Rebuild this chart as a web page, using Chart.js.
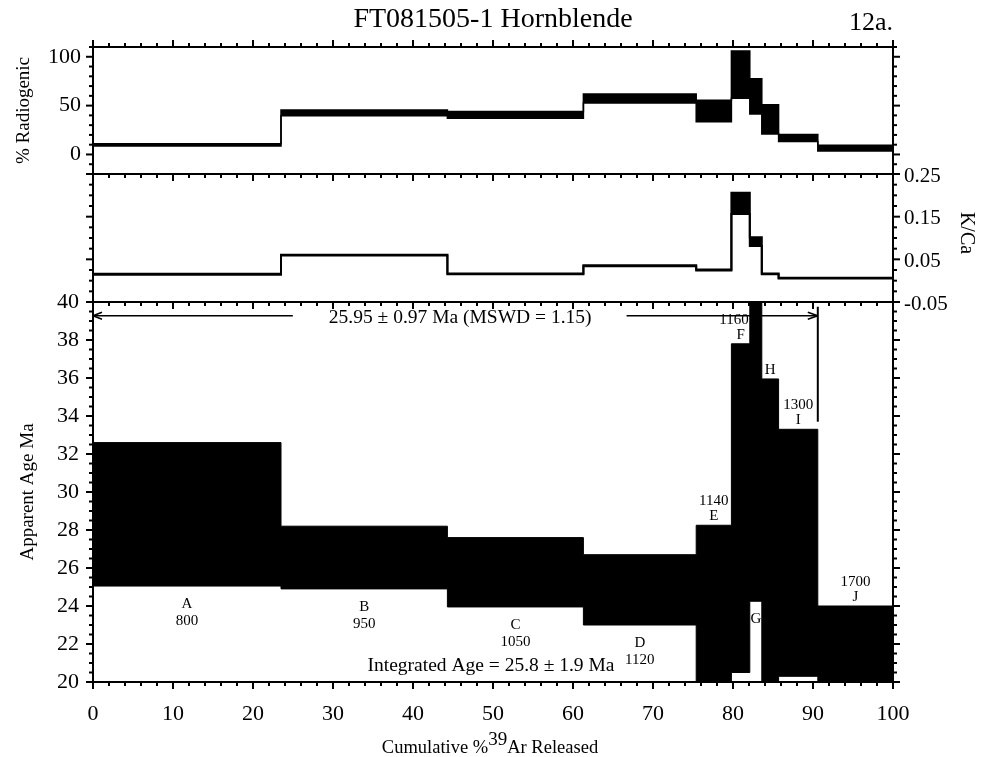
<!DOCTYPE html>
<html>
<head>
<meta charset="utf-8">
<script src="https://cdn.jsdelivr.net/npm/chart.js@4"></script>
<style>
  html, body { margin: 0; padding: 0; background: #fff; }
</style>
</head>
<body>
<canvas id="myChart" width="985" height="757"></canvas>
<script>
// heating steps, start of each step in cumulative % 39Ar
const stepStart = [0, 23.5, 44.3, 61.3, 75.4, 79.8, 82.1, 83.6, 85.7, 90.6]
const stepEnd = 100
const stepNames = ['A', 'B', 'C', 'D', 'E', 'F', 'G', 'H', 'I', 'J']
const stepTemps = ['800', '950', '1050', '1120', '1140', '1160', '', '', '1300', '1700']
const labelSide = ['below', 'below', 'below', 'below', 'above', 'above', 'below', 'above', 'above', 'above']

// apparent age (Ma), lower and upper edge of each box
const ageLow  = [25.05, 24.9, 23.95, 23.0, 19.5, 20.5, 24.25, 19.5, 20.3, 19.5]
const ageHigh = [32.6, 28.2, 27.6, 26.7, 28.25, 37.8, 40.0, 35.95, 33.3, 24.0]

// % radiogenic
const radLow  = [8.6, 39.7, 37.0, 52.8, 33.5, 57.5, 41.5, 21.0, 13.3, 3.5]
const radHigh = [11.0, 45.5, 44.0, 61.8, 55.5, 106, 77.5, 50.8, 20.5, 9.5]

// K/Ca
const kcaLow  = [0.014, 0.059, 0.015, 0.034, 0.024, 0.156, 0.081, 0.015, 0.005, 0.005]
const kcaHigh = [0.016, 0.061, 0.017, 0.036, 0.026, 0.206, 0.102, 0.017, 0.007, 0.007]

// tick labels
const xTicks = [0, 10, 20, 30, 40, 50, 60, 70, 80, 90, 100]
const ageTicks = [20, 22, 24, 26, 28, 30, 32, 34, 36, 38, 40]
const kcaTicks = [-0.05, 0.05, 0.15, 0.25]
const radTicks = [0, 50, 100]

// plateau and integrated age
const plateauFrom = 0
const plateauTo = 90.6
const plateauText = '25.95 \u00b1 0.97 Ma (MSWD = 1.15)'
const integratedText = 'Integrated Age = 25.8 \u00b1 1.9 Ma'

const serif = '"Liberation Serif", "Times New Roman", serif'

function stepPoints(vals) {
  var pts = stepStart.map((x, i) => ({ x: x, y: vals[i] }))
  pts.push({ x: stepEnd, y: vals[vals.length - 1] })
  return pts
}

function band(axis, low, high, width) {
  return [{
    data: stepPoints(high), yAxisID: axis, stepped: true, fill: '+1',
    backgroundColor: '#000', borderColor: '#000', borderWidth: width,
    pointRadius: 0, clip: 0
  }, {
    data: stepPoints(low), yAxisID: axis, stepped: true, fill: false,
    borderColor: '#000', borderWidth: width, pointRadius: 0, clip: 0
  }]
}

function line(ctx, x0, y0, x1, y1) {
  ctx.beginPath()
  ctx.moveTo(x0, y0)
  ctx.lineTo(x1, y1)
  ctx.stroke()
}

function text(ctx, str, x, y, size, align, base) {
  ctx.font = size + 'px ' + serif
  ctx.textAlign = align || 'center'
  ctx.textBaseline = base || 'middle'
  ctx.fillText(str, x, y)
}

function isMajor(v, ticks, step) {
  return ticks.some(t => Math.abs(t - v) < step / 10)
}

function xTickMarks(ctx, xs, y, dir) {
  var n = Math.round((xs.max - xs.min) / 2)
  for (var i = 0; i <= n; i++) {
    var v = xs.min + i * 2
    var px = xs.getPixelForValue(v)
    var len = isMajor(v, xTicks, 2) ? 7 : 4
    line(ctx, px, y, px, y + dir * len)
  }
}

function yTickMarks(ctx, ys, left, right, step, ticks) {
  var n = Math.round((ys.max - ys.min) / step)
  for (var i = 0; i <= n; i++) {
    var v = ys.min + i * step
    var py = ys.getPixelForValue(v)
    var len = isMajor(v, ticks, step) ? 7 : 4
    line(ctx, left, py, left - len, py)
    line(ctx, right, py, right + len, py)
  }
}

const decorations = {
  id: 'decorations',
  afterDraw(chart) {
    const ctx = chart.ctx
    const xs = chart.scales.x
    const age = chart.scales.yAge
    const kca = chart.scales.yKca
    const rad = chart.scales.yRad
    const L = xs.left, R = xs.right

    ctx.save()
    ctx.strokeStyle = '#000'
    ctx.fillStyle = '#000'
    ctx.lineWidth = 2

    // panel frames
    ;[rad, kca, age].forEach(s => ctx.strokeRect(L, s.top, R - L, s.bottom - s.top))

    // tick marks
    xTickMarks(ctx, xs, rad.top, -1)
    xTickMarks(ctx, xs, rad.bottom, 1)
    xTickMarks(ctx, xs, kca.bottom, 1)
    xTickMarks(ctx, xs, age.bottom, 1)
    yTickMarks(ctx, age, L, R, 0.5, ageTicks)
    yTickMarks(ctx, kca, L, R, 0.025, kcaTicks)
    yTickMarks(ctx, rad, L, R, 10, radTicks)

    // tick labels
    xTicks.forEach(v => text(ctx, String(v), xs.getPixelForValue(v), age.bottom + 32, 22))
    ageTicks.forEach(v => text(ctx, String(v), L - 14, age.getPixelForValue(v), 22, 'right'))
    radTicks.forEach(v => text(ctx, String(v), L - 12, rad.getPixelForValue(v), 22, 'right'))
    kcaTicks.forEach(v => text(ctx, v.toFixed(2), R + 11, kca.getPixelForValue(v) + 2, 21, 'left'))

    // axis titles
    ctx.save()
    ctx.translate(24, (rad.top + rad.bottom) / 2)
    ctx.rotate(-Math.PI / 2)
    text(ctx, '% Radiogenic', 0, 0, 19)
    ctx.restore()

    ctx.save()
    ctx.translate(28, (age.top + age.bottom) / 2)
    ctx.rotate(-Math.PI / 2)
    text(ctx, 'Apparent Age Ma', 0, 0, 19)
    ctx.restore()

    ctx.save()
    ctx.translate(966, (kca.top + kca.bottom) / 2 - 5)
    ctx.rotate(Math.PI / 2)
    text(ctx, 'K/Ca', 0, 0, 20)
    ctx.restore()

    // x axis title with superscript
    var cx = (L + R) / 2 - 3, ty = 748
    ctx.font = '18.5px ' + serif
    var w1 = ctx.measureText('Cumulative %').width
    var w3 = ctx.measureText('Ar Released').width
    ctx.font = '19px ' + serif
    var w2 = ctx.measureText('39').width
    var x0 = cx - (w1 + w2 + w3) / 2
    text(ctx, 'Cumulative %', x0, ty, 18.5, 'left')
    text(ctx, '39', x0 + w1, ty - 8, 19, 'left')
    text(ctx, 'Ar Released', x0 + w1 + w2, ty, 18.5, 'left')

    // title
    text(ctx, 'FT081505-1 Hornblende', 493, 20, 28)
    text(ctx, '12a.', 893, 23, 26, 'right')

    // step labels
    stepNames.forEach((name, i) => {
      var endX = i < stepStart.length - 1 ? stepStart[i + 1] : stepEnd
      var px = xs.getPixelForValue((stepStart[i] + endX) / 2)
      if (labelSide[i] === 'below') {
        var yb = age.getPixelForValue(ageLow[i])
        text(ctx, name, px, yb + 18, 15)
        if (stepTemps[i]) text(ctx, stepTemps[i], px, yb + 35, 15)
      } else {
        var yt = age.getPixelForValue(ageHigh[i])
        text(ctx, name, px, yt - 9, 15)
        if (stepTemps[i]) {
          // keep the temperature clear of the taller neighbour on the right
          ctx.font = '15px ' + serif
          var half = ctx.measureText(stepTemps[i]).width / 2
          var tx = Math.min(px, xs.getPixelForValue(endX) - half - 1)
          text(ctx, stepTemps[i], tx, yt - 24, 15)
        }
      }
    })

    // plateau arrow
    var py = age.getPixelForValue(39.28)
    var pL = xs.getPixelForValue(plateauFrom), pR = xs.getPixelForValue(plateauTo)
    ctx.font = '19.5px ' + serif
    var tw = ctx.measureText(plateauText).width
    var tc = xs.getPixelForValue(45.9)
    ctx.lineWidth = 1.5
    line(ctx, pL, py, tc - tw / 2 - 36, py)
    line(ctx, tc + tw / 2 + 35, py, pR, py)
    line(ctx, pL, py, pL + 9, py - 3.5)
    line(ctx, pL, py, pL + 9, py + 3.5)
    line(ctx, pR, py, pR - 10, py - 3.5)
    line(ctx, pR, py, pR - 10, py + 3.5)
    ctx.lineWidth = 2
    line(ctx, pR, age.getPixelForValue(39.75), pR, age.getPixelForValue(33.7))
    text(ctx, plateauText, tc, py + 2, 19.5)

    // integrated age
    text(ctx, integratedText, xs.getPixelForValue(49.75), age.getPixelForValue(20.84), 19.5)

    ctx.restore()
  }
}

const ctx = document.getElementById('myChart')
const chart = new Chart(ctx, {
  type: 'line',
  data: {
    datasets: [].concat(
      band('yAge', ageLow, ageHigh, 1),
      band('yKca', kcaLow, kcaHigh, 2),
      band('yRad', radLow, radHigh, 1.5)
    )
  },
  options: {
    responsive: false,
    animation: false,
    events: [],
    layout: { padding: { top: 47, right: 92, left: 0, bottom: 0 } },
    plugins: {
      legend: { display: false },
      tooltip: { enabled: false },
      filler: { propagate: false }
    },
    scales: {
      x: {
        type: 'linear', min: 0, max: 100,
        grid: { display: false }, border: { display: false }, ticks: { display: false },
        afterFit: s => { s.height = 75 }
      },
      yAge: {
        type: 'linear', position: 'left', stack: 'panels', stackWeight: 380, min: 20, max: 40,
        grid: { display: false }, border: { display: false }, ticks: { display: false },
        afterFit: s => { s.width = 93 }
      },
      yKca: {
        type: 'linear', position: 'left', stack: 'panels', stackWeight: 128, min: -0.05, max: 0.25,
        grid: { display: false }, border: { display: false }, ticks: { display: false },
        afterFit: s => { s.width = 93 }
      },
      yRad: {
        type: 'linear', position: 'left', stack: 'panels', stackWeight: 127, min: -20, max: 110,
        grid: { display: false }, border: { display: false }, ticks: { display: false },
        afterFit: s => { s.width = 93 }
      }
    }
  },
  plugins: [decorations]
})
</script>
</body>
</html>
